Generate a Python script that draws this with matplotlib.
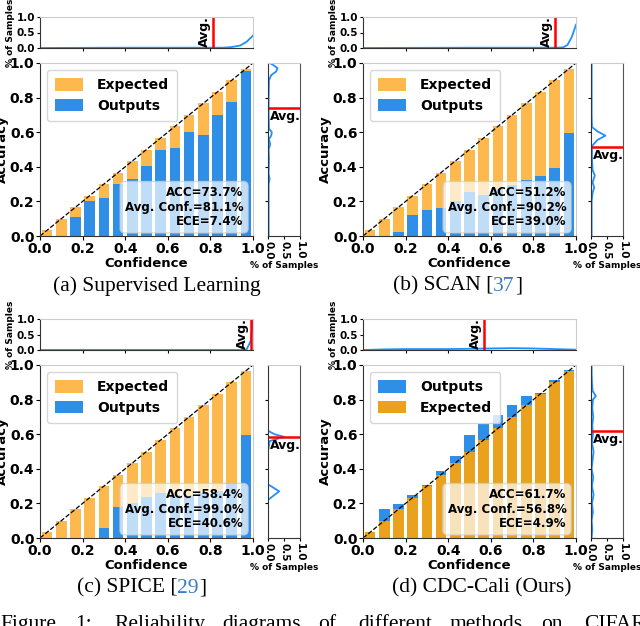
import matplotlib.pyplot as plt

plt.rcParams['font.family'] = 'DejaVu Sans'
plt.rcParams['font.weight'] = 'bold'

# ---- data ----
expected = [0.033, 0.1, 0.167, 0.233, 0.3, 0.367, 0.433, 0.5, 0.567,
            0.633, 0.7, 0.767, 0.833, 0.9, 0.967]
bins = expected

acc_sup = [0.0, 0.0, 0.11, 0.20, 0.22, 0.30, 0.33, 0.405, 0.50, 0.51,
           0.60, 0.585, 0.70, 0.775, 0.955]
acc_scan = [0.0, 0.0, 0.025, 0.12, 0.15, 0.16, 0.205, 0.255, 0.235, 0.27,
            0.295, 0.325, 0.345, 0.395, 0.595]
acc_spice = [0.0, 0.0, 0.0, 0.0, 0.055, 0.18, 0.20, 0.235, 0.26, 0.25,
             0.24, 0.26, 0.27, 0.32, 0.595]
acc_cdc = [0.0, 0.17, 0.195, 0.25, 0.305, 0.385, 0.475, 0.595, 0.66, 0.71,
           0.77, 0.82, 0.84, 0.915, 0.97]

acc_vals = [73.7, 51.2, 58.4, 61.7]
conf_vals = [81.1, 90.2, 99.0, 56.8]
ece_vals = [7.4, 39.0, 40.6, 4.9]

# confidence distribution (top strips)
top_x_sup = [0.0, 0.2, 0.4, 0.6, 0.8, 0.86, 0.9, 0.94, 0.97, 1.0]
top_y_sup = [0.0, 0.005, 0.01, 0.01, 0.01, 0.01, 0.03, 0.08, 0.2, 0.4]
top_x_scan = [0.0, 0.5, 0.9, 0.94, 0.96, 0.98, 1.0]
top_y_scan = [0.0, 0.01, 0.01, 0.02, 0.1, 0.35, 0.75]
top_x_spice = [0.0, 0.5, 0.95, 0.97, 0.99, 1.0]
top_y_spice = [0.0, 0.0, 0.0, 0.02, 0.3, 1.0]
top_x_cdc = [0.0, 0.1, 0.2, 0.4, 0.6, 0.7, 0.8, 0.9, 1.0]
top_y_cdc = [0.0, 0.02, 0.03, 0.03, 0.05, 0.06, 0.05, 0.03, 0.01]

# accuracy distribution (right strips)
side_y_sup = [0.0, 0.3, 0.33, 0.36, 0.45, 0.5, 0.53, 0.56, 0.58, 0.6, 0.62,
              0.7, 0.8, 0.9, 0.93, 0.95, 0.97, 0.99, 1.0]
side_x_sup = [0.02, 0.02, 0.05, 0.02, 0.03, 0.02, 0.07, 0.03, 0.1, 0.12, 0.03,
              0.02, 0.02, 0.03, 0.1, 0.25, 0.3, 0.15, 0.05]
side_y_scan = [0.0, 0.2, 0.25, 0.28, 0.31, 0.35, 0.38, 0.45, 0.52, 0.555,
               0.58, 0.605, 0.63, 0.7, 1.0]
side_x_scan = [0.02, 0.02, 0.05, 0.1, 0.05, 0.12, 0.05, 0.03, 0.03, 0.2,
               0.45, 0.2, 0.03, 0.02, 0.02]
side_y_spice = [0.0, 0.22, 0.27, 0.31, 0.5, 0.56, 0.585, 0.6, 0.62, 0.7, 1.0]
side_x_spice = [0.0, 0.0, 0.35, 0.0, 0.0, 0.05, 0.5, 0.2, 0.0, 0.0, 0.0]
side_y_cdc = [0.0, 0.05, 0.1, 0.15, 0.2, 0.25, 0.3, 0.35, 0.4, 0.45, 0.5,
              0.55, 0.6, 0.65, 0.7, 0.75, 0.8, 0.82, 0.85, 0.9, 0.95, 1.0]
side_x_cdc = [0.02, 0.04, 0.02, 0.06, 0.03, 0.08, 0.03, 0.07, 0.02, 0.05,
              0.08, 0.03, 0.06, 0.04, 0.07, 0.04, 0.06, 0.15, 0.05, 0.03,
              0.02, 0.02]

captions = [('(a) Supervised Learning', None, ''),
            ('(b) SCAN [', '37', ']'),
            ('(c) SPICE [', '29', ']'),
            ('(d) CDC-Cali (Ours)', None, '')]

BLUE = '#2f8fe6'
ORANGE = '#fdb94e'
ORANGE_D = '#e9a11e'
LINE = '#1e90ff'
DARK = '#333333'
LIGHT = '#cccccc'

W, H = 640.0, 626.0


def rect(l, t, r, b):
    return [l / W, 1 - b / H, (r - l) / W, (b - t) / H]


def style_spines(ax, dark, light):
    for s in dark:
        ax.spines[s].set_color(DARK)
    for s in light:
        ax.spines[s].set_color(LIGHT)


def panel(fig, dx, dy, acc, top_x, top_y, side_x, side_y, k, ours=False):
    ax = fig.add_axes(rect(40 + dx, 63 + dy, 253 + dx, 236 + dy))
    if ours:
        ax.bar(bins, acc, width=0.05, color=BLUE, label='Outputs')
        ax.bar(bins, expected, width=0.05, color=ORANGE_D, label='Expected')
    else:
        ax.bar(bins, expected, width=0.05, color=ORANGE, label='Expected')
        ax.bar(bins, acc, width=0.05, color=BLUE, label='Outputs')
    ax.plot([0, 1], [0, 1], '--', color='black', lw=0.9)
    ax.set_xlim(0, 1)
    ax.set_ylim(0, 1)
    ax.set_xticks([0, 0.2, 0.4, 0.6, 0.8, 1.0])
    ax.set_yticks([0, 0.2, 0.4, 0.6, 0.8, 1.0])
    ax.tick_params(labelsize=10, length=3, pad=1)
    ax.set_xlabel('Confidence', fontsize=9.5, fontweight='bold', labelpad=1)
    ax.set_ylabel('Accuracy', fontsize=9.5, fontweight='bold', labelpad=0.5)
    style_spines(ax, ['left', 'bottom'], ['top', 'right'])
    leg = ax.legend(loc='upper left', fontsize=10, handlelength=2.0,
                    handleheight=1.0, handletextpad=1.0, borderpad=0.6,
                    labelspacing=0.45, fancybox=True)
    leg.get_frame().set_edgecolor(LIGHT)
    ax.text(0.955, 0.045,
            f'ACC={acc_vals[k]:.1f}%\nAvg. Conf.={conf_vals[k]:.1f}%\nECE={ece_vals[k]:.1f}%',
            transform=ax.transAxes, ha='right', va='bottom', fontsize=8.5,
            fontweight='bold', linespacing=1.15,
            bbox=dict(boxstyle='round,pad=0.4', facecolor='white',
                      edgecolor=LIGHT, alpha=0.7))

    # top strip: confidence distribution
    at = fig.add_axes(rect(40 + dx, 17 + dy, 253 + dx, 48 + dy))
    at.plot(top_x, top_y, color=LINE, lw=1.3)
    at.axvline(conf_vals[k] / 100, color='red', lw=1.8)
    at.text(conf_vals[k] / 100 - 0.008, 0.03, 'Avg.', rotation=90,
            ha='right', va='bottom', fontsize=9, fontweight='bold')
    at.set_xlim(0, 1)
    at.set_ylim(0, 1)
    at.set_xticks([0.2, 0.4, 0.6, 0.8])
    at.set_xticklabels([])
    at.set_yticks([0, 0.5, 1.0])
    at.tick_params(labelsize=7.5, length=2.5, pad=1)
    at.set_ylabel('% of Samples', fontsize=6.5, fontweight='bold', labelpad=1)
    style_spines(at, ['left', 'bottom'], ['top', 'right'])

    # right strip: accuracy distribution
    ar = fig.add_axes(rect(268 + dx, 63 + dy, 300 + dx, 236 + dy))
    ar.plot(side_x, side_y, color=LINE, lw=1.3)
    ar.axhline(acc_vals[k] / 100, color='red', lw=1.8)
    ar.text(0.05, acc_vals[k] / 100 - 0.01, 'Avg.', ha='left', va='top',
            fontsize=9, fontweight='bold')
    ar.set_xlim(0, 1)
    ar.set_ylim(0, 1)
    ar.set_yticks([0.2, 0.4, 0.6, 0.8])
    ar.set_yticklabels([])
    ar.set_xticks([0, 0.5, 1.0])
    ar.set_xticklabels(['0.0', '0.5', '1.0'], rotation=-90)
    ar.tick_params(labelsize=7.5, length=2.5, pad=1)
    ar.set_xlabel('% of Samples', fontsize=6.5, fontweight='bold', labelpad=1)
    style_spines(ar, ['right', 'bottom', 'left'], ['top'])
    ar.spines['right'].set_color('#555555')


fig = plt.figure(figsize=(6.4, 6.26), dpi=100)

panel(fig, 0, 0, acc_sup, top_x_sup, top_y_sup, side_x_sup, side_y_sup, 0)
panel(fig, 323, 0, acc_scan, top_x_scan, top_y_scan, side_x_scan, side_y_scan, 1)
panel(fig, 0, 302, acc_spice, top_x_spice, top_y_spice, side_x_spice, side_y_spice, 2)
panel(fig, 323, 302, acc_cdc, top_x_cdc, top_y_cdc, side_x_cdc, side_y_cdc, 3, ours=True)

# sub-captions
cap_pos = [(53, 286), (393, 286), (77, 588), (392, 588)]
serif = 'Liberation Serif'
cap_size = 15.5
for (pre, ref, post), (x, y) in zip(captions, cap_pos):
    t = fig.text(x / W, 1 - y / H, pre, fontsize=cap_size, family=serif,
                 fontweight='normal', ha='left', va='center')
    if ref:
        a = plt.annotate(ref, xy=(1, 0), xycoords=t, va='bottom',
                         fontsize=cap_size, family=serif, fontweight='normal',
                         color='#3b7dc4', annotation_clip=False)
        plt.annotate(post, xy=(1, 0), xycoords=a, va='bottom',
                     fontsize=cap_size, family=serif, fontweight='normal',
                     annotation_clip=False)

# figure caption, cut off at the bottom edge
words = ['Figure', '1:', 'Reliability', 'diagrams', 'of', 'different',
         'methods', 'on', 'CIFAR']
word_x = [0, 75, 114, 222, 318, 358, 450, 541, 584]
for wd, x in zip(words, word_x):
    fig.text(x / W, -0.004, wd, fontsize=cap_size, family=serif,
             fontweight='normal', ha='left', va='baseline')

fig.savefig('out.png', dpi=100)
